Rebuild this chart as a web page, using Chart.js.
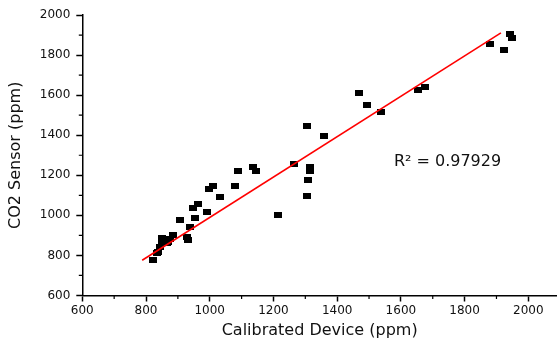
<!DOCTYPE html>
<html>
<head>
<meta charset="utf-8">
<script src="https://cdn.jsdelivr.net/npm/chart.js@4/dist/chart.umd.min.js"></script>
<style>
  html, body { margin: 0; padding: 0; background: #ffffff; overflow: hidden; }
  canvas { display: block; }
</style>
</head>
<body>
<canvas id="chart" width="557" height="342"></canvas>
<script>
// ---- data ----
const calibrated = [823, 833, 839, 844, 849, 850, 859, 865, 870, 875, 886, 907, 928, 933, 938, 946, 954, 964, 992, 997,
                    1009, 1031, 1080, 1088, 1135, 1145, 1213, 1265, 1304, 1310, 1315, 1315, 1306, 1359, 1469, 1493, 1538,
                    1655, 1676, 1880, 1924, 1942, 1948];
const sensor     = [776, 810, 818, 843, 885, 870, 860, 860, 868, 880, 901, 976, 893, 876, 943, 1035, 985, 1056, 1018, 1130,
                    1146, 1093, 1146, 1223, 1243, 1221, 1000, 1256, 1098, 1176, 1221, 1243, 1448, 1396, 1613, 1551, 1515,
                    1626, 1640, 1855, 1823, 1906, 1885];
const fitX = [788, 1914];
const fitY = [776, 1911];
const xTickValues = [600, 800, 1000, 1200, 1400, 1600, 1800, 2000];
const yTickValues = [600, 800, 1000, 1200, 1400, 1600, 1800, 2000];
const xMinorTicks = [700, 900, 1100, 1300, 1500, 1700, 1900];
const yMinorTicks = [700, 900, 1100, 1300, 1500, 1700, 1900];
const xTitle = 'Calibrated Device (ppm)';
const yTitle = 'CO2 Sensor (ppm)';
const r2Text = 'R\u00B2 = 0.97929';
const r2At = { x: 1578, y: 1246 };

// ---- styles ----
const FONT = 'DejaVu Sans';
const marker = document.createElement('canvas');
marker.width = 8; marker.height = 6;
(function () { const m = marker.getContext('2d'); m.fillStyle = '#000'; m.fillRect(0, 0, 8, 6); })();

const scatterPoints = calibrated.map((x, i) => ({ x: x, y: sensor[i] }));
const fitPoints = fitX.map((x, i) => ({ x: x, y: fitY[i] }));

const extras = {
  id: 'extras',
  afterDraw(chart) {
    const ctx = chart.ctx;
    const xs = chart.scales.x, ys = chart.scales.y;
    const axisY = chart.chartArea.bottom, axisX = chart.chartArea.left;
    ctx.save();
    ctx.strokeStyle = '#000';
    ctx.lineWidth = 1.2;
    ctx.beginPath();
    xMinorTicks.forEach(v => { const p = xs.getPixelForValue(v); ctx.moveTo(p, axisY); ctx.lineTo(p, axisY + 3.5); });
    yMinorTicks.forEach(v => { const p = ys.getPixelForValue(v); ctx.moveTo(axisX, p); ctx.lineTo(axisX - 3.5, p); });
    ctx.stroke();
    ctx.fillStyle = '#111';
    ctx.font = '16px "' + FONT + '"';
    ctx.textAlign = 'left';
    ctx.textBaseline = 'alphabetic';
    ctx.fillText(r2Text, xs.getPixelForValue(r2At.x), ys.getPixelForValue(r2At.y));
    ctx.restore();
  }
};

new Chart(document.getElementById('chart'), {
  type: 'scatter',
  data: {
    datasets: [
      {
        type: 'line',
        label: 'fit',
        data: fitPoints,
        borderColor: '#ff0000',
        borderWidth: 1.6,
        pointRadius: 0,
        fill: false,
        order: 0
      },
      {
        label: 'data',
        data: scatterPoints,
        pointStyle: marker,
        pointRadius: 4,
        backgroundColor: '#000',
        borderColor: '#000',
        order: 1
      }
    ]
  },
  options: {
    responsive: false,
    animation: false,
    events: [],
    layout: { autoPadding: false, padding: { top: 15, right: 0, left: 0, bottom: 0 } },
    plugins: { legend: { display: false }, tooltip: { enabled: false } },
    scales: {
      x: {
        type: 'linear',
        min: 600,
        max: 2090,
        afterBuildTicks: s => { s.ticks = xTickValues.map(v => ({ value: v })); },
        afterFit: s => { s.height = 46.5; s.paddingRight = 0; s.paddingLeft = 0; },
        border: { display: true, color: '#000', width: 1.5 },
        grid: { drawOnChartArea: false, drawTicks: true, tickLength: 6, tickColor: '#000', tickWidth: 1.5 },
        ticks: { color: '#111', font: { family: FONT, size: 12 }, padding: 2, maxRotation: 0, autoSkip: false,
                 callback: v => String(v) },
        title: { display: true, text: xTitle, color: '#111', font: { family: FONT, size: 16 }, padding: { top: 0, bottom: 2 } }
      },
      y: {
        type: 'linear',
        min: 600,
        max: 2000,
        afterBuildTicks: s => { s.ticks = yTickValues.map(v => ({ value: v })); },
        afterFit: s => { s.width = 82.3; s.paddingTop = 0; s.paddingBottom = 0; },
        border: { display: true, color: '#000', width: 1.5 },
        grid: { drawOnChartArea: false, drawTicks: true, tickLength: 6, tickColor: '#000', tickWidth: 1.5 },
        ticks: { color: '#111', font: { family: FONT, size: 12 }, padding: 6, autoSkip: false,
                 callback: v => String(v) },
        title: { display: true, text: yTitle, color: '#111', font: { family: FONT, size: 16 }, padding: { top: 6, bottom: 0 } }
      }
    }
  },
  plugins: [extras]
});
</script>
</body>
</html>
